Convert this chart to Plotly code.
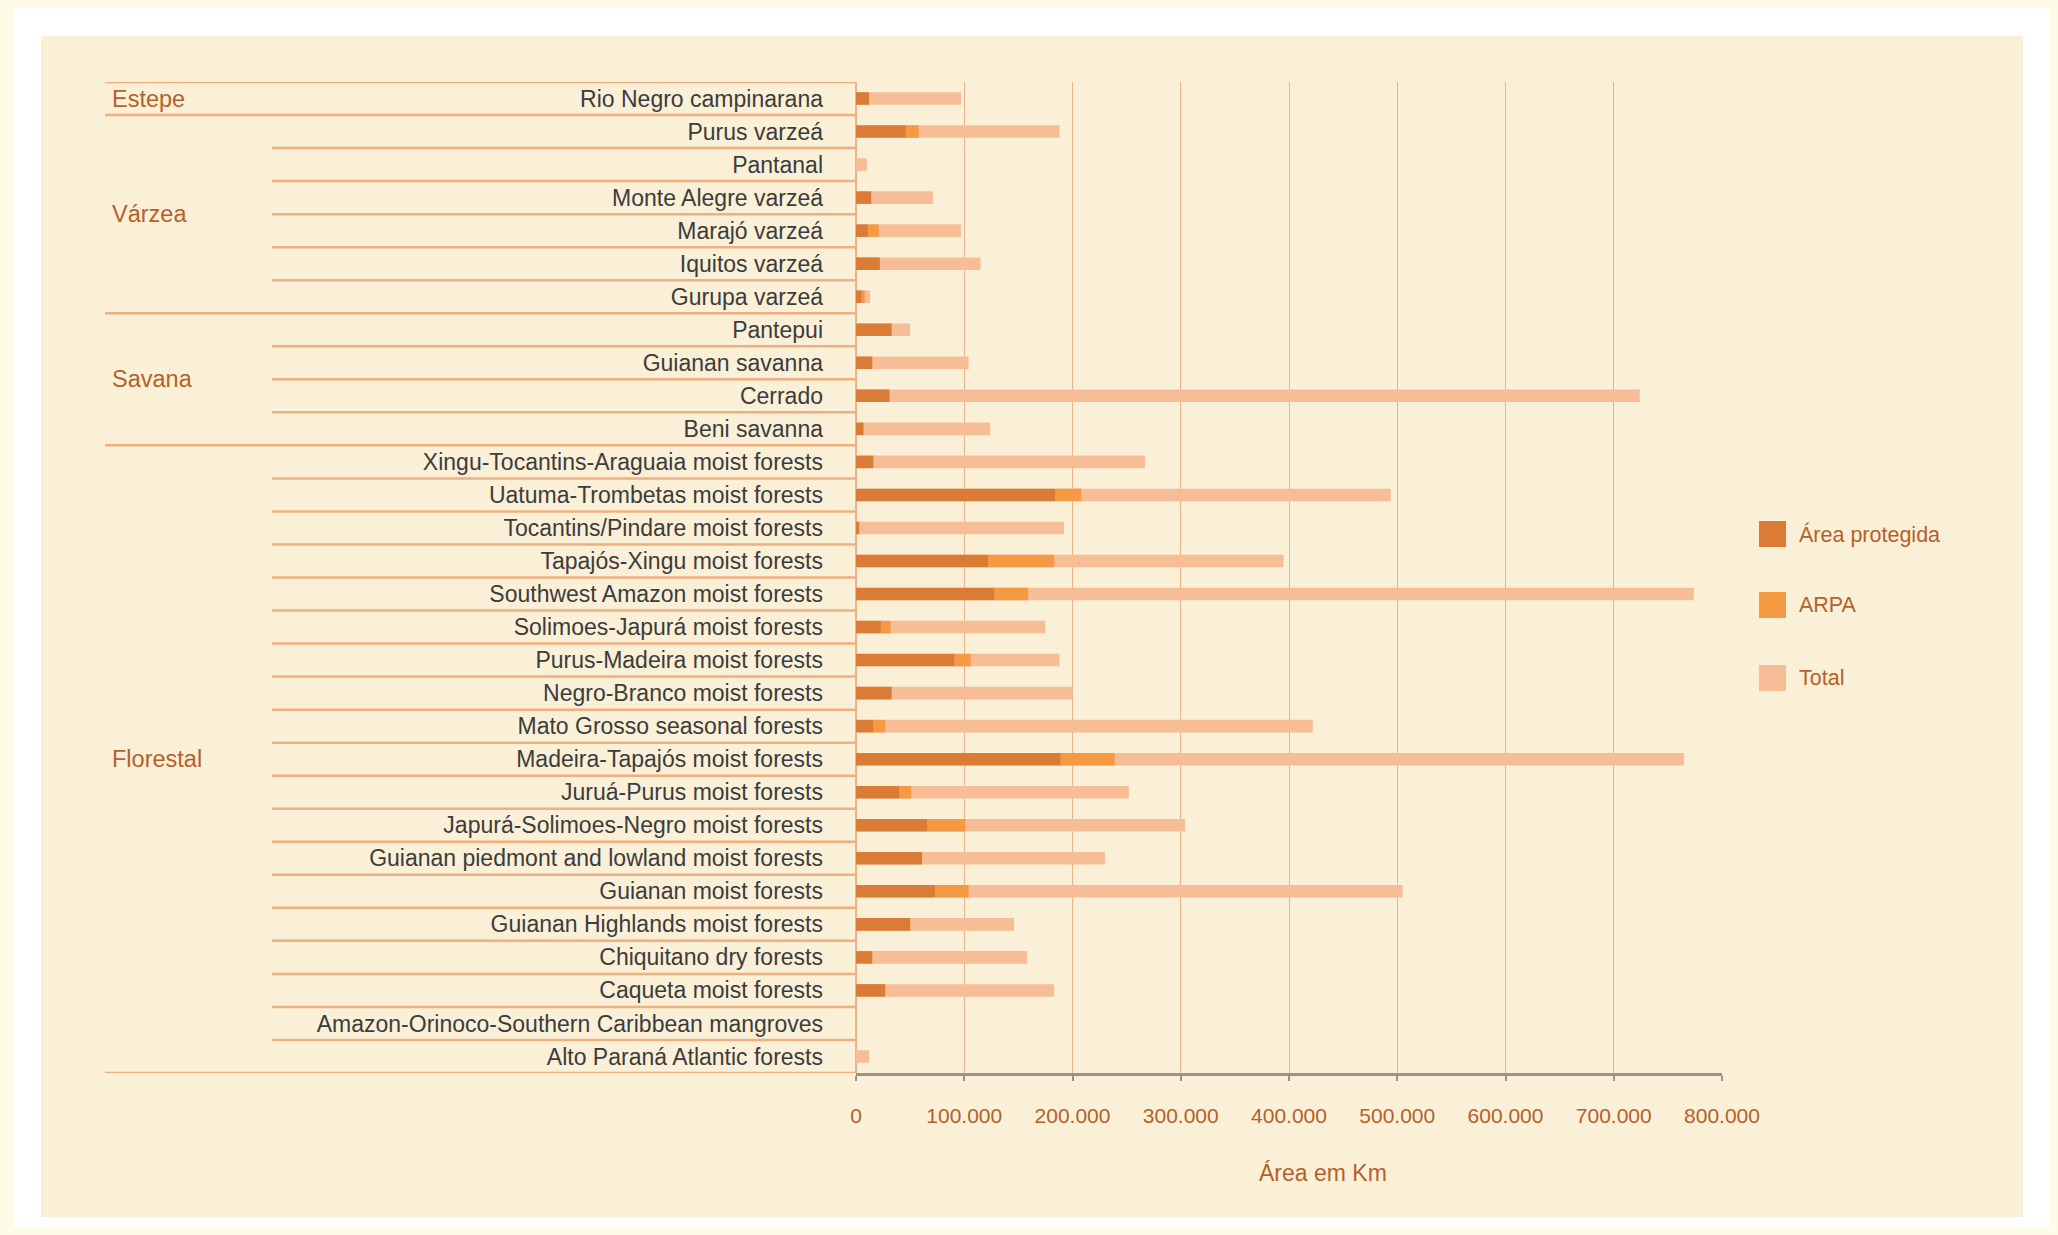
import plotly.graph_objects as go

# ---------------- data ----------------
categories = [
    "Rio Negro campinarana",
    "Purus varzeá", "Pantanal", "Monte Alegre varzeá", "Marajó varzeá", "Iquitos varzeá", "Gurupa varzeá",
    "Pantepui", "Guianan savanna", "Cerrado", "Beni savanna",
    "Xingu-Tocantins-Araguaia moist forests", "Uatuma-Trombetas moist forests",
    "Tocantins/Pindare moist forests", "Tapajós-Xingu moist forests",
    "Southwest Amazon moist forests", "Solimoes-Japurá moist forests",
    "Purus-Madeira moist forests", "Negro-Branco moist forests",
    "Mato Grosso seasonal forests", "Madeira-Tapajós moist forests",
    "Juruá-Purus moist forests", "Japurá-Solimoes-Negro moist forests",
    "Guianan piedmont and lowland moist forests", "Guianan moist forests",
    "Guianan Highlands moist forests", "Chiquitano dry forests",
    "Caqueta moist forests", "Amazon-Orinoco-Southern Caribbean mangroves",
    "Alto Paraná Atlantic forests",
]
area_protegida = [12000, 46000, 0, 14000, 11000, 22000, 5000, 33000, 15000, 31000, 7000,
                  16000, 184000, 3000, 122000, 128000, 23000, 91000, 33000, 16000, 189000,
                  40000, 66000, 61000, 73000, 50000, 15000, 27000, 0, 0]
arpa = [0, 12000, 0, 0, 10000, 0, 3000, 0, 0, 0, 0,
        0, 24000, 0, 61000, 31000, 9000, 15000, 0, 11000, 50000,
        11000, 35000, 0, 31000, 0, 0, 0, 0, 0]
total = [97000, 188000, 10000, 71000, 97000, 115000, 13000, 50000, 104000, 724000, 124000,
         267000, 494000, 192000, 395000, 774000, 175000, 188000, 200000, 422000, 765000,
         252000, 304000, 230000, 505000, 146000, 158000, 183000, 0, 12000]
group_names = ["Estepe", "Várzea", "Savana", "Florestal"]
group_sizes = [1, 6, 4, 19]
x_ticks = [0, 100000, 200000, 300000, 400000, 500000, 600000, 700000, 800000]
legend_names = ["Área protegida", "ARPA", "Total"]

# ---------------- styles ----------------
C_PROT = "#DA7C36"
C_ARPA = "#F59A43"
C_TOTAL = "#F7BD97"
C_TEXT_OR = "#B4612B"
C_LABEL = "#3C3C3C"
C_GRID = "#E8B488"
C_SEP = "#EEB07E"
C_BEIGE = "#FAF0D7"
C_OUTER = "#FEFBE7"
FONT = "Liberation Sans, Arial, Helvetica, sans-serif"

W, H = 2058, 1235
X0, X1, Y0, Y1 = 856, 1722, 82, 1073  # plot area in pixels
PW, PH = X1 - X0, Y1 - Y0


def px(x):
    return (x - X0) / PW


def py(y):
    return (Y1 - y) / PH


fig = go.Figure()
fig.add_bar(y=categories, x=total, orientation="h", marker_color=C_TOTAL,
            marker_line_width=0, width=0.38, name=legend_names[2], showlegend=False)
fig.add_bar(y=categories, x=arpa, base=area_protegida, orientation="h", marker_color=C_ARPA,
            marker_line_width=0, width=0.38, name=legend_names[1], showlegend=False)
fig.add_bar(y=categories, x=area_protegida, orientation="h", marker_color=C_PROT,
            marker_line_width=0, width=0.38, name=legend_names[0], showlegend=False)

shapes = []
# background frames
shapes.append(dict(type="rect", xref="paper", yref="paper", x0=px(13), x1=px(2050),
                   y0=py(1227), y1=py(8), fillcolor="#FFFFFF", line_width=0, layer="below"))
shapes.append(dict(type="rect", xref="paper", yref="paper", x0=px(41), x1=px(2023),
                   y0=py(1217), y1=py(36), fillcolor=C_BEIGE, line_width=0, layer="below"))

# row separators
group_bounds = [0]
for s in group_sizes:
    group_bounds.append(group_bounds[-1] + s)
for k in range(len(categories) + 1):
    xstart = 105 if k in group_bounds else 272
    shapes.append(dict(type="line", xref="paper", yref="y", x0=px(xstart), x1=0,
                       y0=k - 0.5, y1=k - 0.5, line=dict(color=C_SEP, width=2.5), layer="below"))

annotations = []
# group labels
for name, start, size in zip(group_names, group_bounds[:-1], group_sizes):
    annotations.append(dict(text=name, xref="paper", yref="y", x=px(110),
                            y=start + size / 2 - 0.5, xanchor="left", yanchor="middle",
                            showarrow=False, font=dict(family=FONT, size=23.5, color=C_TEXT_OR)))

# axis title
annotations.append(dict(text="Área em Km", xref="paper", yref="paper", x=px(1323), y=py(1173),
                        xanchor="center", yanchor="middle", showarrow=False,
                        font=dict(family=FONT, size=23, color=C_TEXT_OR)))

# custom legend
legend_colors = [C_PROT, C_ARPA, C_TOTAL]
legend_y = [534, 605, 678]
for name, col, yc in zip(legend_names, legend_colors, legend_y):
    shapes.append(dict(type="rect", xref="paper", yref="paper", x0=px(1759), x1=px(1786),
                       y0=py(yc + 13), y1=py(yc - 13), fillcolor=col, line_width=0))
    annotations.append(dict(text=name, xref="paper", yref="paper", x=px(1797), y=py(yc),
                            xanchor="left", yanchor="middle", showarrow=False,
                            font=dict(family=FONT, size=21.5, color=C_TEXT_OR)))

fig.update_layout(
    width=W, height=H,
    margin=dict(l=X0, r=W - X1, t=Y0, b=H - Y1, pad=0),
    paper_bgcolor=C_OUTER,
    plot_bgcolor="rgba(0,0,0,0)",
    barmode="overlay",
    separators=",.",
    shapes=shapes,
    annotations=annotations,
    showlegend=False,
    xaxis=dict(
        range=[0, 800000], tickvals=x_ticks, tickformat=",d",
        showgrid=True, gridcolor=C_GRID, gridwidth=1.3,
        zeroline=True, zerolinecolor=C_GRID, zerolinewidth=2,
        showline=True, linecolor="#9D9385", linewidth=2.5,
        ticks="outside", ticklen=5, tickwidth=2, tickcolor="#9D9385",
        ticklabelstandoff=17,
        tickfont=dict(family=FONT, size=21, color=C_TEXT_OR),
        fixedrange=True,
    ),
    yaxis=dict(
        type="category", categoryorder="array", categoryarray=categories,
        range=[len(categories) - 0.5, -0.5],
        showgrid=False, zeroline=False, showline=False, ticks="",
        ticklabelstandoff=32,
        tickfont=dict(family=FONT, size=23, color=C_LABEL),
        fixedrange=True,
    ),
)

fig.write_html(
    "out.html",
    config={"displayModeBar": False},
    post_script=(
        "document.body.style.margin='0';"
        "document.body.style.background='" + C_OUTER + "';"
        "document.documentElement.style.overflow='hidden';"
    ),
)
